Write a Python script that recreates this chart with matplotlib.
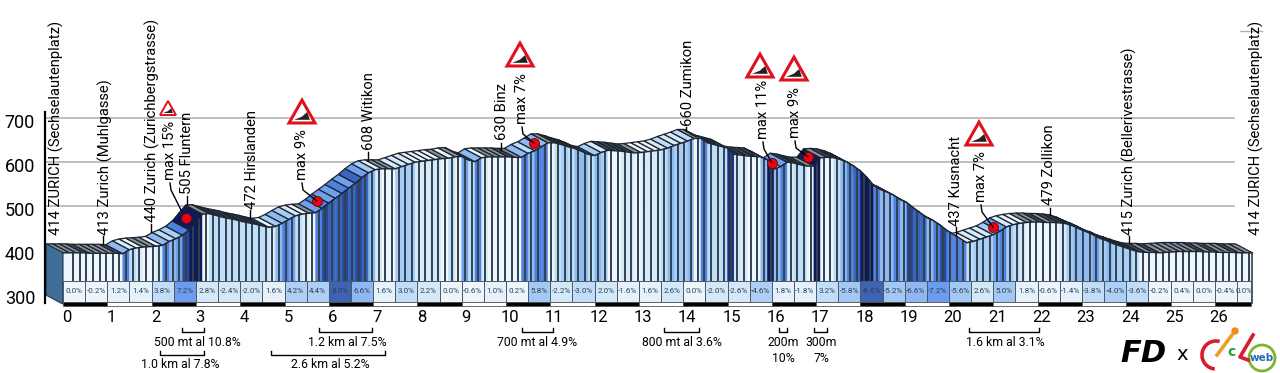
import numpy as np
import matplotlib
matplotlib.use("Agg")
import matplotlib.pyplot as plt
from matplotlib.collections import PolyCollection
from matplotlib.patches import Arc, Circle, Polygon

plt.rcParams['font.family'] = ['Roboto', 'DejaVu Sans']

elevation = [
    414, 414, 414, 414, 413, 413, 413, 413, 413, 412,
    421, 425, 427, 428, 429, 431, 440, 446, 454, 466,
    484, 502, 503, 499, 495, 492, 489, 485, 482, 479,
    475, 472, 474, 481, 490, 498, 502, 504, 505, 515,
    527, 538, 549, 561, 572, 585, 596, 603, 605, 605,
    605, 610, 615, 620, 622, 624, 626, 628, 629, 632,
    633, 625, 621, 630, 632, 632, 632, 632, 631, 631,
    640, 646, 655, 664, 664, 660, 655, 651, 645, 638,
    635, 642, 647, 646, 645, 643, 641, 642, 644, 646,
    648, 652, 658, 663, 668, 674, 674, 664, 660, 656,
    652, 638, 636, 634, 633, 632, 625, 604, 610, 620,
    618, 614, 611, 611, 630, 631, 630, 626, 620, 611,
    600, 585, 567, 558, 552, 545, 535, 528, 516, 505,
    494, 487, 477, 465, 456, 447, 437, 440, 445, 450,
    455, 463, 473, 478, 481, 483, 484, 484, 483, 483,
    482, 480, 475, 468, 462, 455, 447, 442, 435, 430,
    425, 420, 416, 415, 415, 414, 415, 416, 417, 417,
    417, 417, 416, 416, 415, 415, 415, 414, 414, 414,
]
step_km = 0.15

# gradient printed in each half km box
gradients = [
    0.0, -0.2, 1.2, 1.4, 3.8, 7.2, 2.8, -2.4, -2.0, 1.6, 4.2, 4.4, 8.0, 6.6,
    1.6, 3.0, 2.2, 0.0, -0.6, 1.0, 0.2, 5.8, -2.2, -3.0, 2.0, -1.6, 1.6, 2.6,
    0.0, -2.0, -2.6, -4.6, 1.8, -1.8, 3.2, -5.8, -8.6, -5.2, -6.6, -7.2, -5.6,
    2.6, 5.0, 1.8, -0.6, -1.4, -3.8, -4.0, -3.6, -0.2, 0.4, 0.0, -0.4, 0.0,
]
route_end = 26.82
km_ticks = list(range(27))
alt_ticks = [300, 400, 500, 600, 700]

# red dots on the steepest points
climb_km = [2.78, 5.73, 10.63, 16.0, 16.82, 20.99]
climb_alt = [473, 511, 643, 598, 611, 452]

place_labels = [
    ("414 ZURICH (Sechselautenplatz)", 56, 235, None),
    ("413 Zurich (Muhlgasse)", 105, 235, (103, 236, 244)),
    ("440 Zurich (Zurichbergstrasse)", 152, 222, (151, 224, 232)),
    ("505 Fluntern", 187, 194, (187, 196, 204)),
    ("472 Hirslanden", 252, 209, (250, 210, 218)),
    ("608 Witikon", 369, 150, (368, 152, 160)),
    ("630 Binz", 502, 140, (501, 143, 150)),
    ("660 Zumikon", 688, 126, (686, 127, 131)),
    ("437 Kusnacht", 956, 226, (956, 227, 235)),
    ("479 Zollikon", 1049, 205, (1050, 208, 215)),
    ("415 Zurich (Bellerivestrasse)", 1129, 235, (1129, 236, 243)),
    ("414 ZURICH (Sechselautenplatz)", 1256, 235, None),
]
max_labels = [
    ("max 15%", 170, 180, (181, 210)),
    ("max 9%", 302, 180, (317, 201)),
    ("max 7%", 522, 124, (534, 143)),
    ("max 11%", 763, 139, (772, 163)),
    ("max 9%", 795, 138, (808, 157)),
    ("max 7%", 981, 202, (993, 227)),
]
# centre x, bottom y, width
warning_signs = [(168, 115, 16), (302, 123, 26), (520, 66, 26), (760, 77, 26), (794, 80, 26), (979, 145, 26)]
# left, right, bracket y, text x, text
climb_notes = [
    (182, 204, 328, 197, "500 mt al 10.8%"),
    (160, 204, 351, 180, "1.0 km al 7.8%"),
    (319, 372, 328, 347, "1.2 km al 7.5%"),
    (271, 385, 351, 330, "2.6 km al 5.2%"),
    (522, 553, 328, 537, "700 mt al 4.9%"),
    (664, 699, 328, 682, "800 mt al 3.6%"),
    (779, 787, 328, 783, "200m"),
    (814, 827, 328, 821, "300m"),
    (969, 1039, 328, 1005, "1.6 km al 3.1%"),
]

steep_levels = [1, 2, 3, 4, 5, 6, 7, 8, 9, 10]
stripe_colors = ["#EEF6FD", "#D6EAFA", "#BEDDF8", "#A5CDF6", "#8DBAF2", "#6FA0EE",
                 "#4F82E0", "#3766BE", "#26479A", "#1A2F78", "#0E1A58"]
box_colors = ["#EEF6FC", "#E6F1FB", "#D5E8F8", "#C2DDF7", "#ADCEF5", "#A3C8F4",
              "#8FB8F3", "#6B9CF0", "#3E62B4", "#3E62B4", "#2C4A9C"]


def steep_color(value, palette):
    return palette[np.digitize(abs(value), steep_levels)]


def top_color(slope):
    # flat and downhill parts of the top surface look almost black
    if slope < -0.3:
        return "#3f4a55"
    if slope < 1:
        return "#8a939b"
    return steep_color(max(slope - 1.5, 0), stripe_colors)


# km and metres on the main axes, placed so 1 km = 44.3 px and 100 m = 44 px
fig = plt.figure(figsize=(12.8, 3.73), dpi=100, facecolor="white")
ax = fig.add_axes([0, 0, 1, 1])
ax.set_xlim(-63 / 44.3, (1280 - 63) / 44.3)
ax.set_ylim(700 - (373 - 118) / 0.44, 700 + 118 / 0.44)
ax.axis("off")

depth_km = 17 / 44.3
depth_alt = 9 / 0.44
floor_alt = 277
box_top = 329.5
box_bottom = 282

alt = np.array(elevation, dtype=float)
km = np.arange(len(alt)) * step_km
slopes = np.diff(alt) / (step_km * 1000) * 100
colors = [steep_color(s, stripe_colors) for s in slopes]
top_colors = [top_color(s) for s in slopes]

for a in [500, 600, 700]:
    ax.plot([-18 / 44.3, (1234 - 63) / 44.3], [a, a], color="#b4b4b4", lw=1.2, zorder=1)

ribbons = []
for k in range(len(slopes)):
    ribbons.append([
        (km[k] - depth_km, alt[k]), (km[k + 1] - depth_km, alt[k + 1]),
        (km[k + 1], alt[k + 1] - depth_alt), (km[k], alt[k] - depth_alt),
    ])
ax.add_collection(PolyCollection(ribbons, facecolors=top_colors, edgecolors="#1c2430",
                                 linewidths=0.9, zorder=2))

front = alt - depth_alt
faces = []
for k in range(len(slopes)):
    faces.append([(km[k], floor_alt), (km[k + 1], floor_alt), (km[k + 1], front[k + 1]), (km[k], front[k])])
ax.add_collection(PolyCollection(faces, facecolors=colors, edgecolors=colors, linewidths=0.3, zorder=3))
mid_km = km[:-1] + step_km / 2
mid_front = (front[:-1] + front[1:]) / 2
ax.vlines(mid_km[1:], box_top, mid_front[1:], color="#33424f", lw=1.4, zorder=4)
ax.plot(km, front, color="#1c2430", lw=1.0, zorder=4)
ax.vlines(km[-1], floor_alt, front[-1], color="#33424f", lw=1.2, zorder=4)

# left wall of the 3d block
ax.add_patch(Polygon([(-depth_km, alt[0]), (0, front[0]), (0, floor_alt), (-depth_km, floor_alt + depth_alt)],
                     facecolor="#3f6f96", edgecolor="#24384a", lw=0.8, zorder=3))

for i, value in enumerate(gradients):
    left = i * 0.5
    right = min(left + 0.5, route_end)
    ax.fill_between([left, right], box_bottom, box_top, color=steep_color(value, box_colors),
                    edgecolor="#4a5a68", lw=0.7, zorder=5)
    ax.text((left + right) / 2, 306, f"{value:.1f}%", fontsize=5.8, color="#2d4152",
            ha="center", va="center", zorder=6)

for i in km_ticks:
    right = min(i + 1, route_end)
    ax.fill_between([i, right], 272, 281, color="black" if i % 2 == 0 else "white",
                    edgecolor="#555555", lw=0.6, zorder=5)
    ax.text(i + 4 / 44.3, 700 - (318 - 118) / 0.44, str(i), fontsize=12, ha="center", va="center")

for a in alt_ticks:
    ax.text(-28 / 44.3, a - 11, str(a), fontsize=13, ha="right", va="center")
ax.plot([-18 / 44.3, -18 / 44.3], [280, 714], color="black", lw=1.6, zorder=6)

ax.scatter(climb_km, climb_alt, s=52, color="#f00010", edgecolor="#551111", linewidth=0.6, zorder=8)

# second axes in pixel units for labels and logos
over = fig.add_axes([0, 0, 1, 1])
over.set_xlim(0, 1280)
over.set_ylim(373, 0)
over.axis("off")
over.patch.set_alpha(0)

over.plot([1240, 1262], [31, 31], color="#b4b4b4", lw=1)

for text, x, y, tick in place_labels:
    over.text(x, y, text, rotation=90, fontsize=10.6, ha="center", va="bottom")
    if tick:
        over.plot([tick[0], tick[0]], [tick[1], tick[2]], color="black", lw=1)

for text, x, y, target in max_labels:
    over.text(x, y, text, rotation=90, fontsize=10.6, ha="center", va="bottom")
    over.plot([x, x + 1, target[0]], [y + 3, y + 10, target[1]], color="black", lw=1)

for x, bottom, width in warning_signs:
    h = width * 0.88
    over.add_patch(Polygon([(x - width / 2, bottom), (x + width / 2, bottom), (x, bottom - h)],
                           facecolor="white", edgecolor="#e0101c", lw=2.2 if width > 20 else 1.4,
                           joinstyle="miter", zorder=9))
    over.add_patch(Polygon([(x - width * 0.3, bottom - h * 0.14), (x + width * 0.3, bottom - h * 0.14),
                            (x + width * 0.2, bottom - h * 0.48), (x, bottom - h * 0.28)],
                           facecolor="#222222", edgecolor="none", zorder=10))

for left, right, y, text_x, text in climb_notes:
    over.plot([left, left, right, right], [y, y + 4, y + 4, y], color="black", lw=1)
    over.text(text_x, y + 14, text, fontsize=8.8, ha="center", va="center")
over.text(783, 359, "10%", fontsize=8.8, ha="center", va="center")
over.text(821, 359, "7%", fontsize=8.8, ha="center", va="center")

# FD x cicl web logos
over.text(1143, 353, "FD", fontsize=22, fontweight="bold", style="italic", family="DejaVu Sans",
          ha="center", va="center")
over.text(1182, 354, "x", fontsize=14, family="DejaVu Sans", ha="center", va="center")
over.add_patch(Arc((1216, 355), 28, 28, theta1=95, theta2=285, color="#d81e2c", lw=2.6))
over.plot([1217, 1232], [355, 335], color="#e8a020", lw=2.6)
over.add_patch(Circle((1235, 331), 3, color="#ef8a1d"))
over.text(1232, 352, "c", fontsize=10, fontweight="bold", color="#2f9e44", family="DejaVu Sans",
          ha="center", va="center")
over.plot([1253, 1240, 1248], [335, 357, 360], color="#d81e2c", lw=2.6)
over.add_patch(Circle((1262, 358), 13, facecolor="white", edgecolor="#7fb52c", lw=2))
over.text(1262, 358, "web", fontsize=7.5, fontweight="bold", color="#1f6fb5", family="DejaVu Sans",
          ha="center", va="center")

fig.savefig("out.png", dpi=100)
